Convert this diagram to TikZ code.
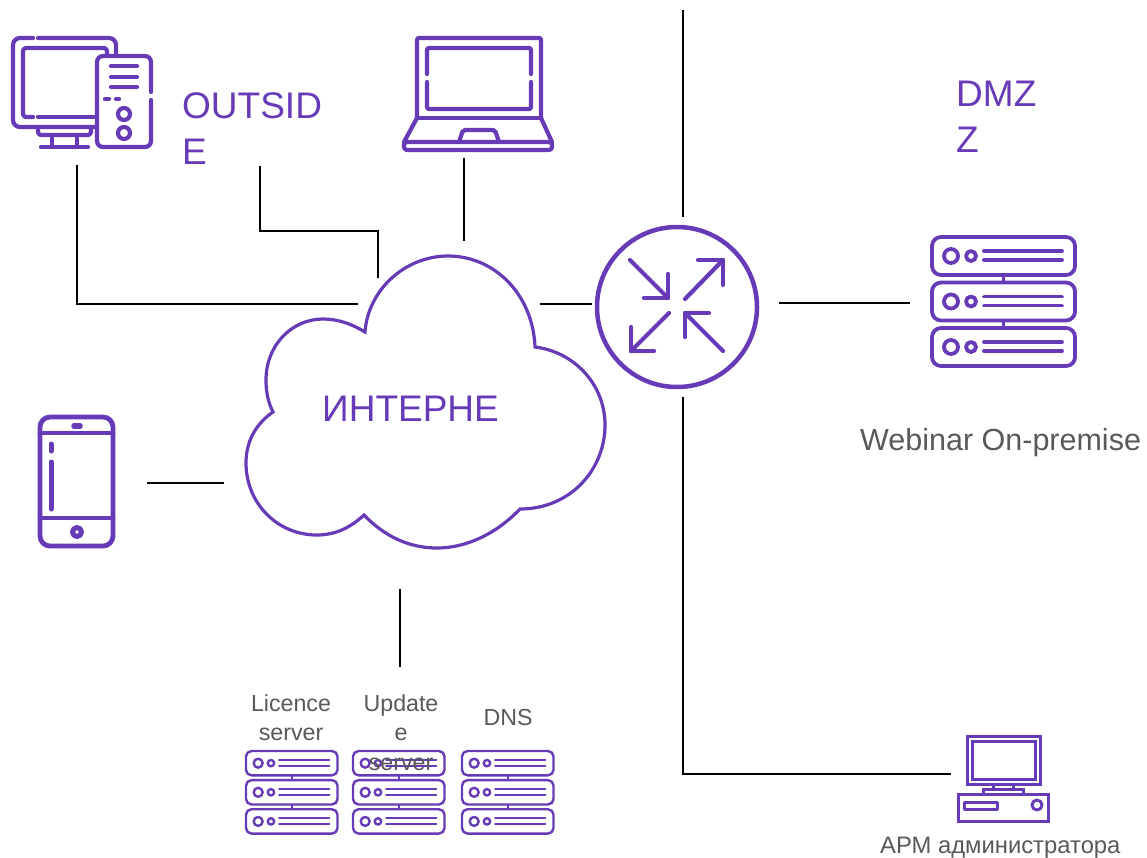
\documentclass[tikz,border=0pt]{standalone}
\usepackage{fontspec}
\setmainfont{Liberation Sans}
\usetikzlibrary{calc}
\definecolor{iconpurple}{RGB}{103,58,183}
\definecolor{labelgray}{RGB}{89,89,89}
\tikzset{
  >=latex,
  link/.style={draw=black,line width=1.4pt},
  iconline/.style={draw=iconpurple,line cap=round,line join=round},
  icon/.style={iconline,line width=4.2pt},
  biglabel/.style={text=iconpurple,inner sep=0pt,align=left,font=\fontsize{37}{46}\selectfont},
  graylabel/.style={text=labelgray,inner sep=0pt,align=center,font=\fontsize{23.2}{29.5}\selectfont},
  rackcorner/.initial=9pt,
  pics/serverrack/.style={code={
    \foreach \row in {0,45.5,91} {
      \draw[iconline,rounded corners=\pgfkeysvalueof{/tikz/rackcorner}]
        (0,\row) rectangle (143,\row+38);
      \draw[iconline] (19,\row+19) circle (7);
      \draw[iconline] (39,\row+19) circle (5);
      \draw[iconline] (52,\row+14) -- (130,\row+14);
      \draw[iconline] (52,\row+23) -- (130,\row+23);
    }
    \draw[iconline,line cap=butt] (71.5,38) -- (71.5,45.5);
    \draw[iconline,line cap=butt] (71.5,83.5) -- (71.5,91);
  }}
}

\begin{document}
\begin{tikzpicture}[x=1pt,y=-1pt]
    \useasboundingbox (0,0) rectangle (1147,857);

    % ends of the links
    \coordinate (pcdown) at (77,165);
    \coordinate (pcturn) at (77,304);
    \coordinate (pcend) at (358,304);
    \coordinate (outdown) at (260,166);
    \coordinate (outturn) at (260,231);
    \coordinate (outover) at (378,231);
    \coordinate (outend) at (378,278);
    \coordinate (laptopdown) at (464,158);
    \coordinate (laptopend) at (464,241);
    \coordinate (cloudright) at (540,304);
    \coordinate (routerleft) at (592,304);
    \coordinate (dmztop) at (683,10);
    \coordinate (routertop) at (683,217);
    \coordinate (routerright) at (779,303);
    \coordinate (webinarleft) at (910,303);
    \coordinate (routerbottom) at (683,397);
    \coordinate (adminturn) at (683,774);
    \coordinate (adminleft) at (951,774);
    \coordinate (phoneright) at (147,483);
    \coordinate (cloudleft) at (224,483);
    \coordinate (cloudbottom) at (400,589);
    \coordinate (racktop) at (400,667);

    \draw[link] (pcdown) -- (pcturn) -- (pcend);
    \draw[link] (outdown) -- (outturn) -- (outover) -- (outend);
    \draw[link] (laptopdown) -- (laptopend);
    \draw[link] (cloudright) -- (routerleft);
    \draw[link] (dmztop) -- (routertop);
    \draw[link] (routerright) -- (webinarleft);
    \draw[link] (routerbottom) -- (adminturn) -- (adminleft);
    \draw[link] (phoneright) -- (cloudleft);
    \draw[link] (cloudbottom) -- (racktop);

    % cloud
    \draw[draw=iconpurple,line width=3.2pt,line join=miter,fill=white]
      (365,332) .. controls (368,290) and (405,256) .. (448,256)
      .. controls (495,256) and (533,295) .. (535,347)
      .. controls (575,352) and (605,385) .. (605,425)
      .. controls (605,470) and (570,509) .. (520,509)
      .. controls (495,535) and (465,548) .. (437,548)
      .. controls (410,548) and (385,537) .. (364,515)
      .. controls (350,528) and (335,535) .. (317,535)
      .. controls (277,535) and (246,503) .. (246,463)
      .. controls (246,440) and (257,423) .. (273,412)
      .. controls (268,402) and (266,392) .. (266,380)
      .. controls (266,345) and (292,319) .. (323,319)
      .. controls (338,319) and (352,324) .. (365,332) -- cycle;
    \node[biglabel,anchor=base west] (internet) at (322,421) {ИНТЕРНЕ};

    % router
    \node[circle,draw=iconpurple,line width=4.5pt,minimum size=160pt,inner sep=0pt] (router) at (677,307) {};
    \draw[icon] (685,299) -- (723,260);
    \draw[icon] (698,260) -- (723,260) -- (723,285);
    \draw[icon] (630,260) -- (668,298);
    \draw[icon] (668,274) -- (668,298) -- (644,298);
    \draw[icon] (669,313) -- (631,351);
    \draw[icon] (631,327) -- (631,351) -- (654,351);
    \draw[icon] (723,351) -- (685,313);
    \draw[icon] (685,337) -- (685,313) -- (709,313);

    % desktop
    \draw[icon,rounded corners=7pt] (33,38) -- (13,38) -- (13,127) -- (97,127);
    \draw[icon,rounded corners=7pt] (38,38) -- (116,38) -- (116,55);
    \draw[icon,rounded corners=3pt] (33,117) -- (23,117) -- (23,48) -- (107,48) -- (107,55);
    \draw[icon] (38,117) -- (97,117);
    \draw[icon,rounded corners=3pt] (38,127) -- (38,135) -- (91,135) -- (91,127);
    \draw[icon] (52,135) -- (52,147);
    \draw[icon] (77,135) -- (77,147);
    \draw[icon] (41,147) -- (88,147);
    \draw[icon,rounded corners=6pt] (151,92) -- (151,56) -- (97,56) -- (97,147) -- (151,147) -- (151,100);
    \foreach \liney in {66,77,87}
      \draw[icon] (111,\liney) -- (137,\liney);
    \draw[icon] (105,99) -- (109,99);
    \draw[icon] (116,99) -- (119,99);
    \draw[icon] (124,114) circle (6);
    \draw[icon] (124,133) circle (6);

    % laptop
    \draw[icon,rounded corners=2pt] (417,118) -- (417,38) -- (541,38) -- (541,118);
    \draw[icon,rounded corners=2pt] (427,74) -- (427,48) -- (531,48) -- (531,74);
    \draw[icon,rounded corners=2pt] (427,82) -- (427,109) -- (531,109) -- (531,82);
    \draw[icon] (417,118) -- (541,118);
    \draw[icon] (417,118) -- (404,142);
    \draw[icon] (541,118) -- (552,142);
    \draw[icon,rounded corners=3pt] (404,142) rectangle (552,150);
    \draw[icon,rounded corners=2pt] (459,142) -- (463,130) -- (495,130) -- (499,142);

    % phone
    \draw[icon,line width=4.8pt,rounded corners=10pt] (40,417) rectangle (113,546);
    \draw[icon,line width=4.8pt] (40,433) -- (113,433);
    \draw[icon,line width=4.8pt] (40,518) -- (113,518);
    \draw[icon,line width=5.5pt] (74,426) -- (80,426);
    \draw[icon,line width=5pt] (77,532) circle (4.5);
    \draw[icon,line width=5pt] (51,444) -- (51,451);
    \draw[icon,line width=5pt] (51,462) -- (51,509);

    % servers
    \pic[line width=3.8pt] at (932,237) {serverrack};
    \pic[scale=0.64,line width=2.4pt,rackcorner=5.5pt] at (246,751) {serverrack};
    \pic[scale=0.64,line width=2.4pt,rackcorner=5.5pt] at (353,751) {serverrack};
    \pic[scale=0.64,line width=2.4pt,rackcorner=5.5pt] at (462,751) {serverrack};

    % admin workstation
    \draw[icon,line width=3pt,line join=miter] (967,736) rectangle (1040,784);
    \draw[icon,line width=3pt,line join=miter] (972,741) rectangle (1035,779);
    \draw[icon,line width=3pt,line join=miter] (993,784) rectangle (1013,789);
    \draw[icon,line width=3pt,line join=miter] (983,789) rectangle (1023,794);
    \draw[icon,line width=3pt,line join=miter,fill=white] (958,794) rectangle (1048,821);
    \draw[icon,line width=3pt] (964,802) rectangle (997,809);
    \draw[icon,line width=3pt] (1037,805) circle (5);

    % labels
    \node[biglabel,anchor=north west] (outside) at (182,92) {OUTSID\\E};
    \node[biglabel,anchor=north west] (dmz) at (956,81) {DMZ\\Z};
    \node[graylabel,anchor=base west,font=\fontsize{30.5}{36}\selectfont] (webinar) at (860,450) {Webinar On-premise};
    \node[graylabel,anchor=north] (licence) at (291,694) {Licence\\server};
    \node[graylabel,anchor=north] (update) at (401,694) {Update\\e\\server};
    \node[graylabel,anchor=base] (dns) at (508,725) {DNS};
    \node[graylabel,anchor=base west,font=\fontsize{23.8}{29.5}\selectfont] (admin) at (880,853) {АРМ администратора};
\end{tikzpicture}
\end{document}
